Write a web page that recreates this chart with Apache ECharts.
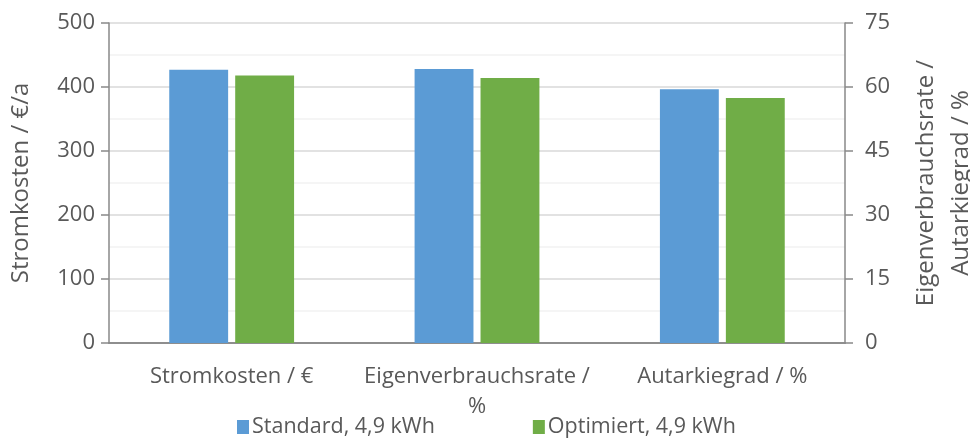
<!DOCTYPE html>
<html>
<head>
<meta charset="utf-8">
<script src="https://cdn.jsdelivr.net/npm/echarts@6/dist/echarts.min.js"></script>
<style>
html,body{margin:0;padding:0;background:#fff;}
#chart{width:970px;height:443px;}
</style>
</head>
<body>
<div id="chart"></div>
<script>
// Kategorien und Werte
var categories=["Stromkosten / €","Eigenverbrauchsrate /\n%","Autarkiegrad / %"];
var seriesNames=["Standard, 4,9 kWh","Optimiert, 4,9 kWh"];
// linke Achse (€/a): nur Stromkosten
var standardKosten=[427,"-","-"];
var optimiertKosten=[418,"-","-"];
// rechte Achse (%): Eigenverbrauchsrate, Autarkiegrad
var standardProzent=["-",64.2,59.5];
var optimiertProzent=["-",62.1,57.4];
var leftTicks=[0,500,100];
var rightTicks=[0,75,15];

var colors=['#5b9bd5','#70ad47'];
var txt='#595959';
var font='Open Sans';

var myChart=echarts.init(document.getElementById('chart'));

var option={
	animation:false,
	color:colors,
	textStyle:{fontFamily:font,color:txt},
	grid:{left:109,right:125,top:23,bottom:100,containLabel:false,outerBoundsMode:'none'},
	legend:{
		bottom:0,
		left:232,
		itemWidth:12,
		itemHeight:14,
		itemGap:98,
		icon:'rect',
		textStyle:{fontSize:21.5,color:txt,fontFamily:font,padding:[0,0,0,-2]},
		data:seriesNames
	},
	xAxis:[
		{
			type:'category',
			data:categories,
			axisLine:{show:true,lineStyle:{color:'#898989',width:1.5}},
			axisTick:{show:false},
			axisLabel:{fontSize:22,color:txt,fontFamily:font,margin:19,lineHeight:30,interval:0}
		},
		{
			type:'category',
			data:categories,
			position:'top',
			axisLine:{show:true,lineStyle:{color:'#898989',width:1.5}},
			axisTick:{show:false},
			axisLabel:{show:false}
		}
	],
	yAxis:[
		{
			type:'value',
			min:leftTicks[0],max:leftTicks[1],interval:leftTicks[2],
			name:'Stromkosten / €/a',
			nameLocation:'middle',
			nameGap:76,
			nameRotate:90,
			nameTextStyle:{fontSize:24,color:txt,fontFamily:font},
			axisLine:{show:true,lineStyle:{color:'#898989',width:1.5}},
			axisTick:{show:true,inside:false,length:8,lineStyle:{color:'#898989',width:1.5}},
			axisLabel:{fontSize:22,color:txt,fontFamily:font,margin:14},
			splitLine:{show:true,lineStyle:{color:'#d9d9d9',width:1.5}},
			minorTick:{show:false,splitNumber:2},
			minorSplitLine:{show:true,lineStyle:{color:'#f2f2f2',width:1.5}}
		},
		{
			type:'value',
			position:'right',
			min:rightTicks[0],max:rightTicks[1],interval:rightTicks[2],
			name:'Eigenverbrauchsrate /\nAutarkiegrad / %',
			nameLocation:'middle',
			nameGap:64,
			nameRotate:90,
			nameTextStyle:{fontSize:24,color:txt,fontFamily:font,lineHeight:35,align:'center'},
			axisLine:{show:true,lineStyle:{color:'#898989',width:1.5}},
			axisTick:{show:true,inside:false,length:8,lineStyle:{color:'#898989',width:1.5}},
			axisLabel:{fontSize:22,color:txt,fontFamily:font,margin:20},
			splitLine:{show:false}
		}
	],
	series:[
		{name:seriesNames[0],type:'bar',xAxisIndex:0,yAxisIndex:0,data:standardKosten,barWidth:'24%',barGap:'12%'},
		{name:seriesNames[1],type:'bar',xAxisIndex:0,yAxisIndex:0,data:optimiertKosten,barWidth:'24%',barGap:'12%'},
		{name:seriesNames[0],type:'bar',xAxisIndex:1,yAxisIndex:1,data:standardProzent,barWidth:'24%',barGap:'12%'},
		{name:seriesNames[1],type:'bar',xAxisIndex:1,yAxisIndex:1,data:optimiertProzent,barWidth:'24%',barGap:'12%'}
	]
};
myChart.setOption(option);
</script>
</body>
</html>
